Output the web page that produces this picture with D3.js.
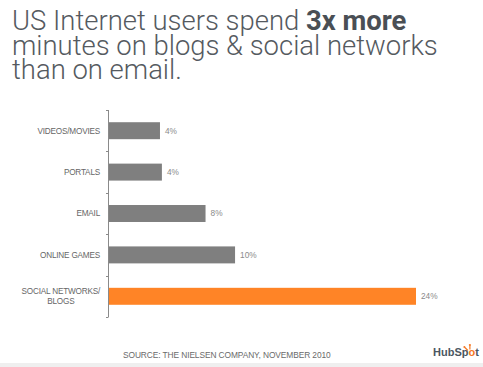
<!DOCTYPE html>
<html>
<head>
<meta charset="utf-8">
<script src="https://cdn.jsdelivr.net/npm/d3@7"></script>
<style>
  html, body { margin: 0; padding: 0; background: #fff; }
  svg { display: block; }
</style>
</head>
<body>
<div id="chart"></div>
<script>
// Chart data
const categories = ["VIDEOS/MOVIES", "PORTALS", "EMAIL", "ONLINE GAMES", "SOCIAL NETWORKS/\nBLOGS"];
const values = [4.05, 4.2, 7.6, 9.9, 24];
const valueLabels = ["4%", "4%", "8%", "10%", "24%"];
const highlight = "SOCIAL NETWORKS/\nBLOGS";

const titleLines = [
  [{ t: "US Internet users spend ", b: false }, { t: "3x more", b: true }],
  [{ t: "minutes on blogs & social networks", b: false }],
  [{ t: "than on email.", b: false }]
];
const sourceText = "SOURCE: THE NIELSEN COMPANY, NOVEMBER 2010";

const W = 483, H = 367;
const svg = d3.select("#chart").append("svg")
  .attr("width", W).attr("height", H);

// Title
const titleFont = "Roboto, 'Liberation Sans', Arial, sans-serif";
const title = svg.append("g").attr("fill", "#555a5f");
const titleTexts = titleLines.map((parts, i) => {
  const t = title.append("text")
    .attr("x", 12)
    .attr("y", 30 + i * 24.5)
    .attr("font-family", titleFont)
    .attr("font-size", 26)
    .attr("font-weight", 300);
  parts.forEach(p => {
    t.append("tspan")
      .attr("font-weight", p.b ? 700 : 300)
      .attr("fill", p.b ? "#4a4f55" : null)
      .text(p.t);
  });
  return t;
});
// fit the longest line to the reference width
const w2 = titleTexts[1].node().getComputedTextLength();
const fs = 26 * 426 / w2;
titleTexts.forEach(t => t.attr("font-size", fs));

// Scales
const y = d3.scaleBand()
  .domain(categories)
  .range([110, 317])
  .paddingInner(0.59)
  .paddingOuter(0.295);

const x = d3.scaleLinear()
  .domain([0, 24])
  .range([108, 416]);

// Axis line + ticks between categories
const axis = svg.append("g").attr("stroke", "#8a8a8a").attr("stroke-width", 1);
axis.append("line")
  .attr("x1", x(0) + 0.5).attr("x2", x(0) + 0.5)
  .attr("y1", y.range()[0]).attr("y2", y.range()[1]);
const tickYs = d3.range(categories.length + 1)
  .map(i => y.range()[0] + i * y.step());
axis.selectAll(".tick").data(tickYs).join("line")
  .attr("x1", x(0) - 2).attr("x2", x(0) + 0.5)
  .attr("y1", d => Math.round(d) + 0.5).attr("y2", d => Math.round(d) + 0.5);

// Bars
svg.selectAll(".bar").data(categories).join("rect")
  .attr("class", "bar")
  .attr("x", x(0) + 1)
  .attr("y", d => y(d))
  .attr("width", (d, i) => x(values[i]) - x(0) - 1)
  .attr("height", y.bandwidth())
  .attr("fill", d => d === highlight ? "#ff8426" : "#7f7f7f");

// Value labels
const labelFont = "'Liberation Sans', Arial, sans-serif";
svg.selectAll(".val").data(categories).join("text")
  .attr("class", "val")
  .attr("x", (d, i) => x(values[i]) + 5)
  .attr("y", d => y(d) + y.bandwidth() / 2)
  .attr("dy", "0.35em")
  .attr("font-family", labelFont)
  .attr("font-size", 8.3)
  .attr("fill", "#8a8a8a")
  .text((d, i) => valueLabels[i]);

// Category labels
categories.forEach(c => {
  const lines = c.split("\n");
  const cy = y(c) + y.bandwidth() / 2;
  const g = svg.append("g")
    .attr("font-family", labelFont)
    .attr("font-size", 8.2)
    .attr("fill", "#666")
    .attr("letter-spacing", -0.2);
  const first = g.append("text")
    .attr("x", 100)
    .attr("y", cy - (lines.length - 1) * 5)
    .attr("dy", "0.35em")
    .attr("text-anchor", "end")
    .text(lines[0]);
  if (lines.length > 1) {
    const fw = first.node().getComputedTextLength();
    lines.slice(1).forEach((l, j) => {
      g.append("text")
        .attr("x", 100 - fw / 2)
        .attr("y", cy - (lines.length - 1) * 5 + (j + 1) * 10)
        .attr("dy", "0.35em")
        .attr("text-anchor", "middle")
        .text(l);
    });
  }
});

// Source
svg.append("text")
  .attr("x", 123)
  .attr("y", 358)
  .attr("font-family", labelFont)
  .attr("font-size", 8.4)
  .attr("fill", "#6a6a6a")
  .attr("letter-spacing", -0.1)
  .text(sourceText);

// Logo
const logo = svg.append("text")
  .attr("x", 433)
  .attr("y", 356)
  .attr("font-family", labelFont)
  .attr("font-size", 11)
  .attr("font-weight", 700)
  .attr("fill", "#4b5661");
logo.append("tspan").text("HubSp");
logo.append("tspan").attr("fill", "#f57722").text("o");
logo.append("tspan").text("t");
const oBox = logo.node().getBBox();
const spr = svg.append("g").attr("stroke", "#f57722").attr("stroke-width", 1.2).attr("fill", "#f57722");
const ox = oBox.x + oBox.width - 9.3, oy = 352.5;
spr.append("line").attr("x1", ox).attr("y1", oy - 3).attr("x2", ox).attr("y2", oy - 7);
spr.append("line").attr("x1", ox - 2).attr("y1", oy - 2).attr("x2", ox - 5).attr("y2", oy - 5);
spr.append("circle").attr("cx", ox).attr("cy", oy - 7.5).attr("r", 1.1).attr("stroke", "none");
spr.append("circle").attr("cx", ox - 5.5).attr("cy", oy - 5.5).attr("r", 1).attr("stroke", "none");

// Bottom strip
svg.append("rect")
  .attr("x", 0).attr("y", 363)
  .attr("width", W).attr("height", H - 363)
  .attr("fill", "#efefef");
</script>
</body>
</html>
